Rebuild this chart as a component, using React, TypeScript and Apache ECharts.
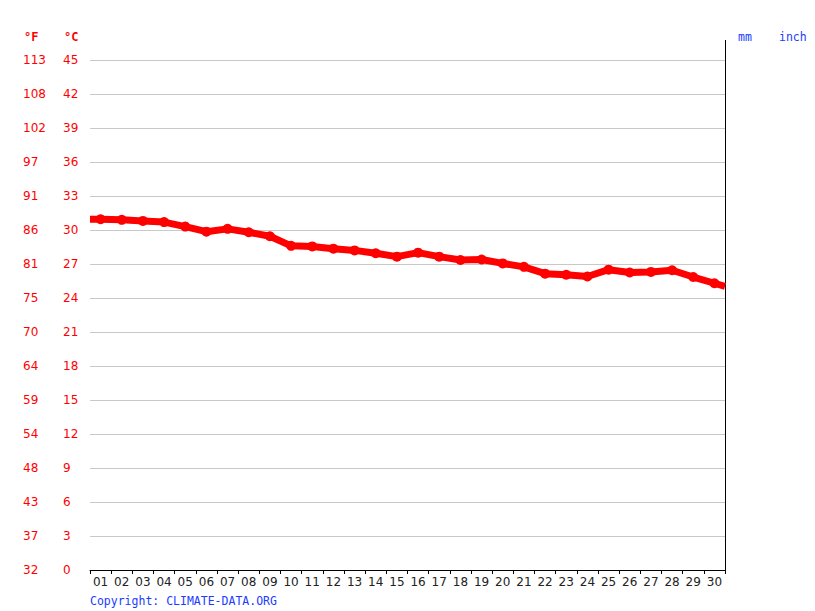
import React, { useEffect, useRef } from "react";
import * as echarts from "echarts";

const days = ["01","02","03","04","05","06","07","08","09","10","11","12","13","14","15","16","17","18","19","20","21","22","23","24","25","26","27","28","29","30"];
const tempC = [30.95, 30.9, 30.8, 30.7, 30.3, 29.85, 30.1, 29.8, 29.45, 28.6, 28.55, 28.35, 28.2, 27.95, 27.65, 28.0, 27.65, 27.35, 27.4, 27.05, 26.75, 26.15, 26.05, 25.9, 26.5, 26.25, 26.3, 26.45, 25.85, 25.3];
const celsiusTicks = [0, 3, 6, 9, 12, 15, 18, 21, 24, 27, 30, 33, 36, 39, 42, 45];
const fahrenheitTicks = [32, 37, 43, 48, 54, 59, 64, 70, 75, 81, 86, 91, 97, 102, 108, 113];

export default function App() {
  const ref = useRef<HTMLDivElement>(null);
  useEffect(() => {
    document.body.style.margin = "0";
    const chart = echarts.init(ref.current!, null, { renderer: "svg" });
    const n = days.length;
    const lineData: any[] = [];
    lineData.push({ value: [0, tempC[0]], symbol: "none" });
    tempC.forEach((v, i) => lineData.push([i + 0.5, v]));
    lineData.push({ value: [n, tempC[n - 1] - (tempC[n - 2] - tempC[n - 1]) / 2], symbol: "none" });
    const red = "#ff0000";
    const blue = "#1a3cff";
    const labelFont = "DejaVu Sans";
    chart.setOption({
      animation: false,
      grid: { left: 90, right: 90, top: 60, bottom: 41 },
      xAxis: [
        {
          type: "category",
          data: days,
          boundaryGap: true,
          axisLine: { lineStyle: { color: "#000", width: 1 } },
          axisTick: { show: true, length: 4, inside: false, lineStyle: { color: "#000" } },
          axisLabel: { color: "#222", fontFamily: labelFont, fontSize: 12, margin: 6 },
          splitLine: { show: false },
        },
        {
          type: "value",
          min: 0,
          max: n,
          show: false,
          position: "bottom",
        },
      ],
      yAxis: [
        {
          type: "value",
          min: 0,
          max: 45,
          interval: 3,
          axisLine: { show: false },
          axisTick: { show: false },
          axisLabel: {
            color: red,
            fontFamily: labelFont,
            fontSize: 12,
            align: "left",
            margin: 27,
            padding: [2, 0, 0, 0],
            formatter: (v: number) => {
              const i = celsiusTicks.indexOf(v);
              return i >= 0 ? String(celsiusTicks[i]) : "";
            },
          },
          splitLine: { lineStyle: { color: "#c8c8c8", width: 1 } },
        },
        {
          type: "value",
          min: 0,
          max: 45,
          interval: 3,
          position: "left",
          axisLine: { show: false },
          axisTick: { show: false },
          axisLabel: {
            color: red,
            fontFamily: labelFont,
            fontSize: 12,
            align: "left",
            margin: 67,
            padding: [2, 0, 0, 0],
            formatter: (v: number) => {
              const i = celsiusTicks.indexOf(v);
              return i >= 0 ? String(fahrenheitTicks[i]) : "";
            },
          },
          splitLine: { show: false },
        },
      ],
      graphic: [
        { type: "text", left: 24, top: 31, style: { text: "°F", fill: red, font: "bold 12px 'DejaVu Sans Mono'" } },
        { type: "text", left: 64, top: 31, style: { text: "°C", fill: red, font: "bold 12px 'DejaVu Sans Mono'" } },
        { type: "text", left: 738, top: 31, style: { text: "mm", fill: blue, font: "11.5px 'DejaVu Sans Mono'" } },
        { type: "text", left: 779, top: 31, style: { text: "inch", fill: blue, font: "11.5px 'DejaVu Sans Mono'" } },
        { type: "text", left: 90, top: 595, style: { text: "Copyright: CLIMATE-DATA.ORG", fill: blue, font: "11.5px 'DejaVu Sans Mono'" } },
        { type: "line", shape: { x1: 725.5, y1: 40, x2: 725.5, y2: 571 }, style: { stroke: "#000", lineWidth: 1 } },
      ],
      series: [
        {
          type: "line",
          xAxisIndex: 1,
          yAxisIndex: 0,
          data: lineData,
          symbol: "circle",
          symbolSize: 10,
          lineStyle: { color: red, width: 7 },
          itemStyle: { color: red },
          z: 5,
        },
      ],
    });
    return () => chart.dispose();
  }, []);
  return <div ref={ref} style={{ width: 815, height: 611 }} />;
}
